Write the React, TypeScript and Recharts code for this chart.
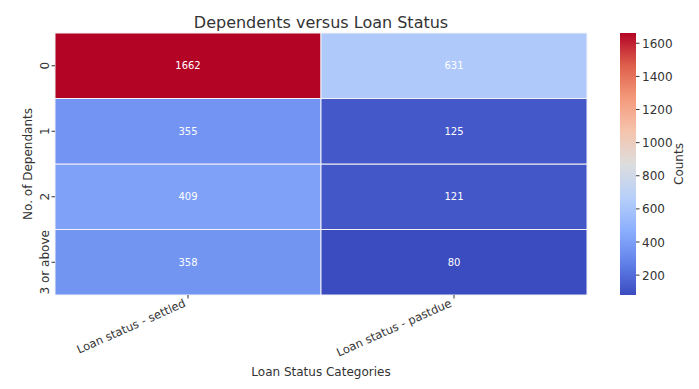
import { BarChart, Bar, XAxis, YAxis, Cell, LabelList, ReferenceArea } from 'recharts';

// Heatmap data: rows = number of dependants, columns = loan status
const dependants = ['0', '1', '2', '3 or above'];
const statuses = ['Loan status - settled', 'Loan status - pastdue'];
const settledCounts = [1662, 355, 409, 358];
const pastdueCounts = [631, 125, 121, 80];
const colorbarTicks = [200, 400, 600, 800, 1000, 1200, 1400, 1600];

const countsByStatus = [settledCounts, pastdueCounts];
const allCounts = [...settledCounts, ...pastdueCounts];
const vmin = Math.min(...allCounts);
const vmax = Math.max(...allCounts);

// coolwarm colormap control points
const coolwarm: [number, number[]][] = [
  [0.0, [59, 76, 192]],
  [0.125, [98, 130, 234]],
  [0.25, [141, 176, 254]],
  [0.375, [184, 208, 249]],
  [0.5, [221, 221, 221]],
  [0.625, [245, 196, 173]],
  [0.75, [244, 154, 123]],
  [0.875, [222, 96, 77]],
  [1.0, [180, 4, 38]],
];

const colorAt = (t: number) => {
  const c = Math.max(0, Math.min(1, t));
  for (let i = 1; i < coolwarm.length; i++) {
    const [t1, c1] = coolwarm[i];
    const [t0, c0] = coolwarm[i - 1];
    if (c <= t1) {
      const f = (c - t0) / (t1 - t0);
      const rgb = c0.map((v, k) => Math.round(v + (c1[k] - v) * f));
      return `rgb(${rgb.join(',')})`;
    }
  }
  return 'rgb(180,4,38)';
};
const colorFor = (v: number) => colorAt((v - vmin) / (vmax - vmin));

// one stacked bar per column, each row a unit-high segment
const tableData = statuses.map((name, ci) => {
  const row: Record<string, string | number> = { name };
  dependants.forEach((_, ri) => {
    row[`cell${ri}`] = 1;
    row[`count${ri}`] = countsByStatus[ci][ri];
  });
  return row;
});

const textColor = '#333';
const font = 'DejaVu Sans, sans-serif';

const XTick = ({ x, payload }: any) => (
  <g>
    <line x1={x} y1={295} x2={x} y2={298.5} stroke="#333" strokeWidth={1} />
    <text
      x={x - 1.5}
      y={306}
      transform={`rotate(-24, ${x - 1.5}, 306)`}
      textAnchor="end"
      fontSize={11.5}
      fill={textColor}
      fontFamily={font}
    >
      {payload.value}
    </text>
  </g>
);

const YTick = ({ y, payload }: any) => {
  const label = dependants[Math.floor(dependants.length - payload.value)];
  return (
    <g>
      <line x1={55} y1={y} x2={51.5} y2={y} stroke="#333" strokeWidth={1} />
      <text
        x={48.5}
        y={y}
        transform={`rotate(-90, 48.5, ${y})`}
        textAnchor="middle"
        fontSize={12}
        fill={textColor}
        fontFamily={font}
      >
        {label}
      </text>
    </g>
  );
};

const CbTick = ({ y, payload }: any) => (
  <g>
    <line x1={636} y1={y} x2={639.5} y2={y} stroke="#333" strokeWidth={1} />
    <text x={642} y={y + 4.5} fontSize={12} fill={textColor} fontFamily={font}>
      {payload.value}
    </text>
  </g>
);

export default function App() {
  const rowOrder = dependants.map((_, i) => i).reverse();
  return (
    <div style={{ position: 'absolute', left: 0, top: 0, width: 699, height: 389, background: '#fff', fontFamily: font }}>
      <div style={{ position: 'absolute', left: 0, top: 0 }}>
        <BarChart
          width={699}
          height={389}
          data={tableData}
          margin={{ top: 33, right: 112, left: 0, bottom: 0 }}
          barCategoryGap={0}
          barGap={0}
        >
          <XAxis dataKey="name" height={94} axisLine={false} tickLine={false} tick={<XTick />} interval={0} />
          <YAxis
            type="number"
            domain={[0, dependants.length]}
            ticks={[0.5, 1.5, 2.5, 3.5]}
            width={55}
            axisLine={false}
            tickLine={false}
            tick={<YTick />}
          />
          {rowOrder.map((ri) => (
            <Bar key={ri} dataKey={`cell${ri}`} stackId="h" isAnimationActive={false} stroke="#f2f2f5" strokeWidth={1}>
              {tableData.map((d, ci) => (
                <Cell key={ci} fill={colorFor(d[`count${ri}`] as number)} />
              ))}
              <LabelList dataKey={`count${ri}`} position="center" fill="#fff" fontSize={10} fontFamily={font} />
            </Bar>
          ))}
          <text x={321} y={28} textAnchor="middle" fontSize={16} fill={textColor} fontFamily={font}>
            Dependents versus Loan Status
          </text>
          <text x={321} y={376} textAnchor="middle" fontSize={12} fill={textColor} fontFamily={font}>
            Loan Status Categories
          </text>
          <text
            x={32}
            y={164}
            transform="rotate(-90, 32, 164)"
            textAnchor="middle"
            fontSize={12}
            fill={textColor}
            fontFamily={font}
          >
            No. of Dependants
          </text>
        </BarChart>
      </div>
      <div style={{ position: 'absolute', left: 0, top: 0 }}>
        <BarChart width={699} height={389} data={[{ name: 'cb' }]} margin={{ top: 33, right: 0, left: 620, bottom: 94 }}>
          <defs>
            <linearGradient id="cbGrad" x1="0" y1="1" x2="0" y2="0">
              {coolwarm.map(([t, rgb]) => (
                <stop key={t} offset={`${t * 100}%`} stopColor={`rgb(${rgb.join(',')})`} />
              ))}
            </linearGradient>
          </defs>
          <XAxis dataKey="name" hide />
          <YAxis
            yAxisId="cb"
            orientation="right"
            type="number"
            domain={[vmin, vmax]}
            ticks={colorbarTicks}
            width={63}
            axisLine={false}
            tickLine={false}
            tick={<CbTick />}
            allowDataOverflow
          />
          <ReferenceArea yAxisId="cb" y1={vmin} y2={vmax} fill="url(#cbGrad)" fillOpacity={1} stroke="none" ifOverflow="visible" />
          <text
            x={683}
            y={164}
            transform="rotate(-90, 683, 164)"
            textAnchor="middle"
            fontSize={12}
            fill={textColor}
            fontFamily={font}
          >
            Counts
          </text>
        </BarChart>
      </div>
    </div>
  );
}
